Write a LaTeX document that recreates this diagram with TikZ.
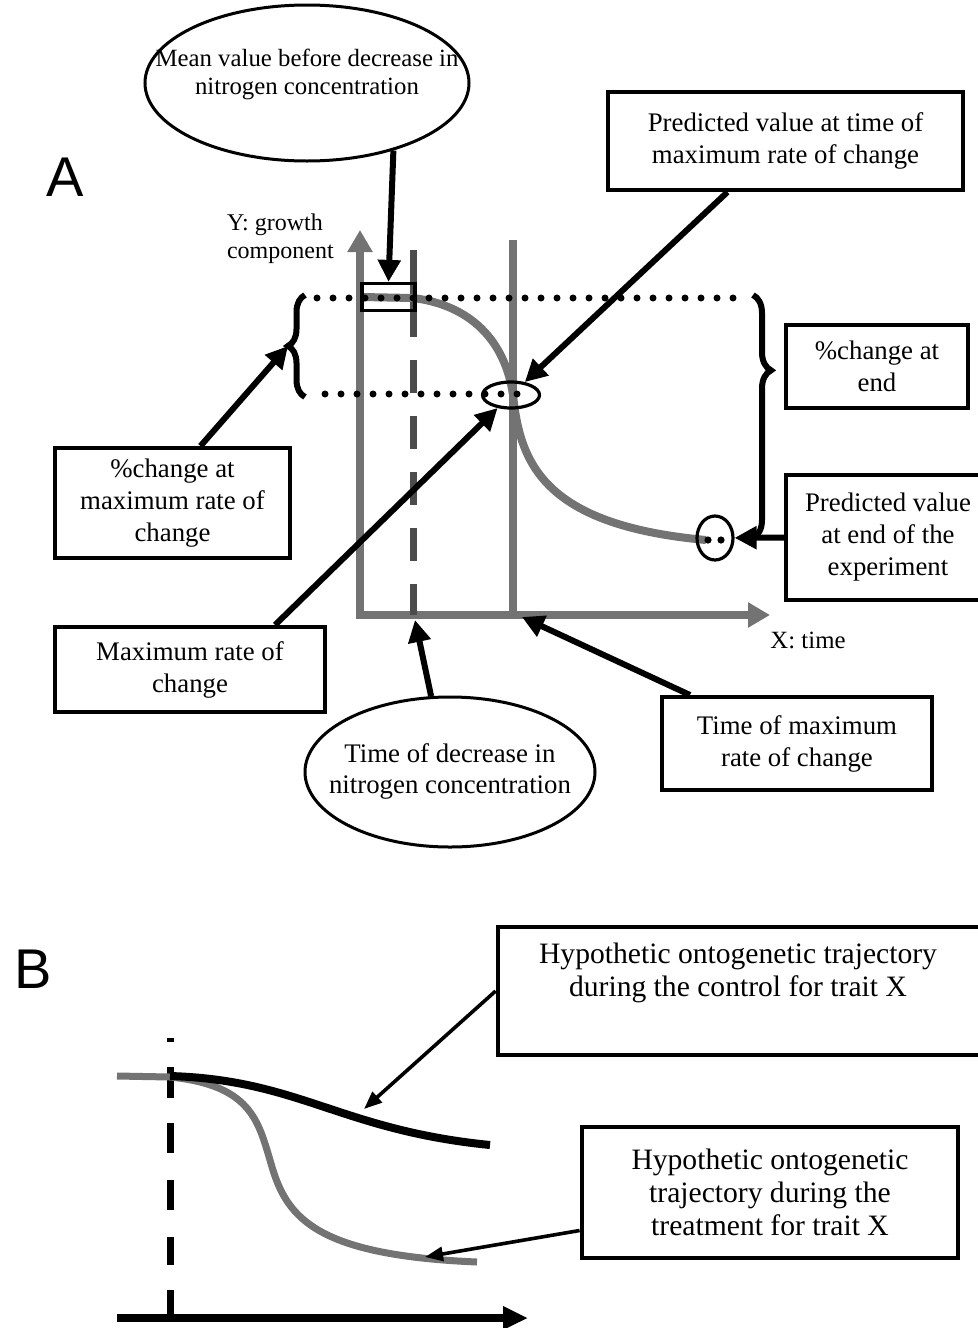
\documentclass[tikz,border=0pt]{standalone}
\usepackage{fontspec}
\setmainfont{Liberation Serif}
\newfontfamily\panelfont{Liberation Sans}
\usepackage{tikz}
\usetikzlibrary{arrows.meta, decorations.pathreplacing, shapes.geometric}

\tikzset{
  labelbox/.style={draw, line width=2pt, align=center, inner sep=0pt, font=\fontsize{13.4}{16}\selectfont},
  bigbox/.style={draw, line width=2.4pt, inner sep=0pt},
  bigtext/.style={align=center, font=\fontsize{14.8}{16.5}\selectfont},
  oval/.style={draw, ellipse, line width=1.5pt, inner sep=0pt, font=\fontsize{13.4}{15.5}\selectfont},
  ring/.style={draw, ellipse, line width=1.6pt, inner sep=0pt},
  arrowline/.style={line width=3pt, -{Triangle[length=11pt,width=11pt]}},
  thinarrow/.style={line width=1.8pt, -{Triangle[length=9pt,width=7pt]}},
  axisline/.style={black!55, line width=4pt},
  dotline/.style={line width=3.5pt, line cap=round, dash pattern=on 0pt off 8pt},
  curly/.style={line width=3pt, decorate, decoration={brace, amplitude=#1}},
  curly/.default=8.5pt,
  panel/.style={font=\panelfont\fontsize{28}{28}\selectfont}
}

\begin{document}
\begin{tikzpicture}[x=0.5pt, y=-0.5pt]
\useasboundingbox (0,0) rectangle (978,1328);

% Panel A
\node[panel] (letA) at (65,177) {A};

% Axes and guide lines
\draw[axisline, line join=miter, {Triangle[length=11pt,width=12pt]}-{Triangle[length=11pt,width=12pt]}] (360,230) -- (360,615) -- (770,615);
\draw[axisline] (513,240) -- (513,615);
\draw[black!70, line width=3.5pt, dash pattern=on 43.5pt off 11.5pt on 16.5pt off 11.5pt on 16.5pt off 11.5pt on 16.5pt off 11.5pt on 16.5pt off 11.5pt on 16.5pt off 11.5pt] (413,250) -- (413,615);
\node[anchor=west, align=left, font=\fontsize{12}{14}\selectfont] (ylab) at (220,239) {Y: growth\\component};
\node[font=\fontsize{12.4}{14}\selectfont] (xlab) at (808,640) {X: time};

% Growth curve
\draw[axisline] (362,297) -- (413,298) .. controls (470,305) and (505,340) .. (513,395) .. controls (520,460) and (540,525) .. (706,540);

% Dotted levels and braces
\draw[dotline] (317,298) -- (740,298);
\draw[dotline] (325,394) -- (520,394);
\draw[curly] (305,397) -- (305,295);
\coordinate (lbrtip) at (288,346);
\draw[curly=9pt, decoration={aspect=0.31}] (753,295) -- (753,538);

% Markers on the curve
\node[draw, line width=1.6pt, minimum width=26.5pt, minimum height=13.5pt, inner sep=0pt] (meanbox) at (388.5,297) {};
\node[ring, minimum width=28.5pt, minimum height=13pt] (pmax) at (511,395) {};
\node[ring, minimum width=18pt, minimum height=22pt] (pend) at (715,538) {};
\fill (708,540) circle (1.8pt) (721,540) circle (1.8pt);

% Labels
\node[oval, minimum width=162pt, minimum height=78pt] (meanval) at (307,83) {};
\node[align=center, font=\fontsize{12.4}{14}\selectfont] (meantext) at (307,74) {Mean value before decrease in\\nitrogen concentration};
\node[labelbox, minimum width=177.5pt, minimum height=49pt] (predmax) at (785.5,141) {Predicted value at time of\\maximum rate of change};
\node[labelbox, minimum width=91pt, minimum height=41.5pt] (endpct) at (877,366.5) {\%change at\\end};
\node[labelbox, minimum width=117.5pt, minimum height=55pt] (midpct) at (172.5,503) {\%change at\\maximum rate of\\change};
\node[labelbox, minimum width=102pt, minimum height=62.5pt] (predend) at (888,537.5) {Predicted value\\at end of the\\experiment};
\node[labelbox, minimum width=135pt, minimum height=42.5pt] (maxrate) at (190,669.5) {Maximum rate of\\change};
\node[labelbox, minimum width=135pt, minimum height=46.5pt] (tmax) at (797,743.5) {Time of maximum\\rate of change};
\node[oval, minimum width=145pt, minimum height=75pt] (tdec) at (450,772) {\makebox[0pt]{\begin{tabular}{@{}c@{}}Time of decrease in\\nitrogen concentration\end{tabular}}};
\coordinate (tdecpt) at (415,620);
\coordinate (tmaxpt) at (522,617);

% Pointers
\draw[arrowline] (meanval.322) -- (meanbox.north);
\draw[arrowline] ([xshift=-29pt]predmax.south) -- (pmax);
\draw[arrowline] ([xshift=14pt]midpct.north) -- (lbrtip);
\draw[arrowline] ([xshift=42.5pt]maxrate.north) -- (pmax);
\draw[arrowline] (predend.west) -- (pend);
\draw[arrowline] (tdec.104) -- (tdecpt);
\draw[arrowline] ([xshift=15pt]tmax.north west) -- (tmaxpt);

% Panel B
\node[panel] (letB) at (33,969) {B};
\draw[line width=3.5pt, dash pattern=on 2pt off 12.5pt on 15.5pt off 12.5pt on 15pt off 13.5pt on 15pt off 13.5pt on 14pt off 12.5pt on 15pt off 20pt] (170,1038) -- (170,1318);
\draw[line width=4pt, -{Triangle[length=12.5pt,width=11pt]}] (117,1318) -- (528,1318);

% Trajectories
\draw[axisline, line width=3.5pt] (117,1076) -- (170,1077) .. controls (250,1085) and (258,1120) .. (270,1160) .. controls (285,1215) and (310,1255) .. (477,1262);
\draw[line width=4pt] (170,1076) .. controls (300,1080) and (340,1130) .. (490,1145);
\coordinate (ctrlpt) at (364,1109);
\coordinate (treatpt) at (425,1257);

% Trajectory labels
\node[bigbox, minimum width=246pt, minimum height=64pt] (ctrl) at (744,991) {};
\node[bigtext] (ctrltext) at (738,973) {Hypothetic ontogenetic trajectory\\during the control for trait X};
\node[bigbox, bigtext, minimum width=188pt, minimum height=65.5pt] (treat) at (770,1192.5) {Hypothetic ontogenetic\\trajectory during the\\treatment for trait X};
\draw[thinarrow] (ctrl.west) -- (ctrlpt);
\draw[thinarrow] ([yshift=-19pt]treat.west) -- (treatpt);
\end{tikzpicture}
\end{document}
